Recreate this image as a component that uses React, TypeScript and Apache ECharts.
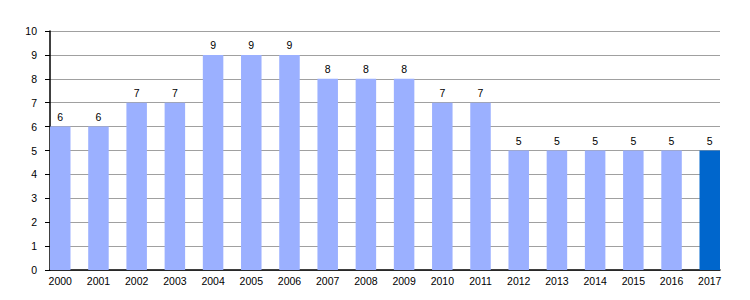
import React, { useEffect, useRef } from "react";
import * as echarts from "echarts";

const years = ["2000","2001","2002","2003","2004","2005","2006","2007","2008","2009","2010","2011","2012","2013","2014","2015","2016","2017"];
const values = [6,6,7,7,9,9,9,8,8,8,7,7,5,5,5,5,5,5];
const highlightIndex = 17;

export default function App() {
  const ref = useRef<HTMLDivElement>(null);
  useEffect(() => {
    if (!ref.current) return;
    const chart = echarts.init(ref.current, null, { renderer: "svg" });
    const font = "'Liberation Sans', Arial, sans-serif";
    const gap = 8.85;
    chart.setOption({
      animation: false,
      grid: [
        { left: 50, right: 30, top: 31, bottom: 30 },
        { left: 50 - gap, right: 30 - gap, top: 31, bottom: 30 },
      ],
      xAxis: [
        {
          gridIndex: 0, type: "category", data: years, boundaryGap: true,
          axisLine: { show: true, lineStyle: { color: "#000", width: 1.5 } },
          axisTick: { show: false }, axisLabel: { show: false }, splitLine: { show: false },
        },
        {
          gridIndex: 1, type: "category", data: years, boundaryGap: true,
          axisLine: { show: false }, axisTick: { show: false },
          axisLabel: { show: true, color: "#000", fontSize: 10.5, fontFamily: font, margin: 5 },
        },
      ],
      yAxis: [
        {
          gridIndex: 0, type: "value", min: 0, max: 10, interval: 1,
          axisLine: { show: true, lineStyle: { color: "#000", width: 1.5 } },
          axisTick: { show: true, length: 5, lineStyle: { color: "#000" } },
          axisLabel: { color: "#000", fontSize: 10.5, fontFamily: font, margin: 13 },
          splitLine: { show: true, lineStyle: { color: "#a0a0a0", width: 1 } },
        },
        {
          gridIndex: 1, type: "value", min: 0, max: 10, interval: 1,
          axisLine: { show: false }, axisTick: { show: false }, axisLabel: { show: false },
          splitLine: { show: false },
        },
      ],
      series: [
        {
          type: "bar", xAxisIndex: 1, yAxisIndex: 1, barWidth: 20.5,
          data: values.map((v, i) => ({
            value: v,
            itemStyle: { color: i === highlightIndex ? "#0066cc" : "#9bb0ff" },
          })),
          label: { show: true, position: "top", distance: 4, color: "#000", fontSize: 10.5, fontFamily: font },
        },
      ],
    });
    return () => chart.dispose();
  }, []);
  return <div ref={ref} style={{ width: 750, height: 300, position: "absolute", left: 0, top: 0 }} />;
}
